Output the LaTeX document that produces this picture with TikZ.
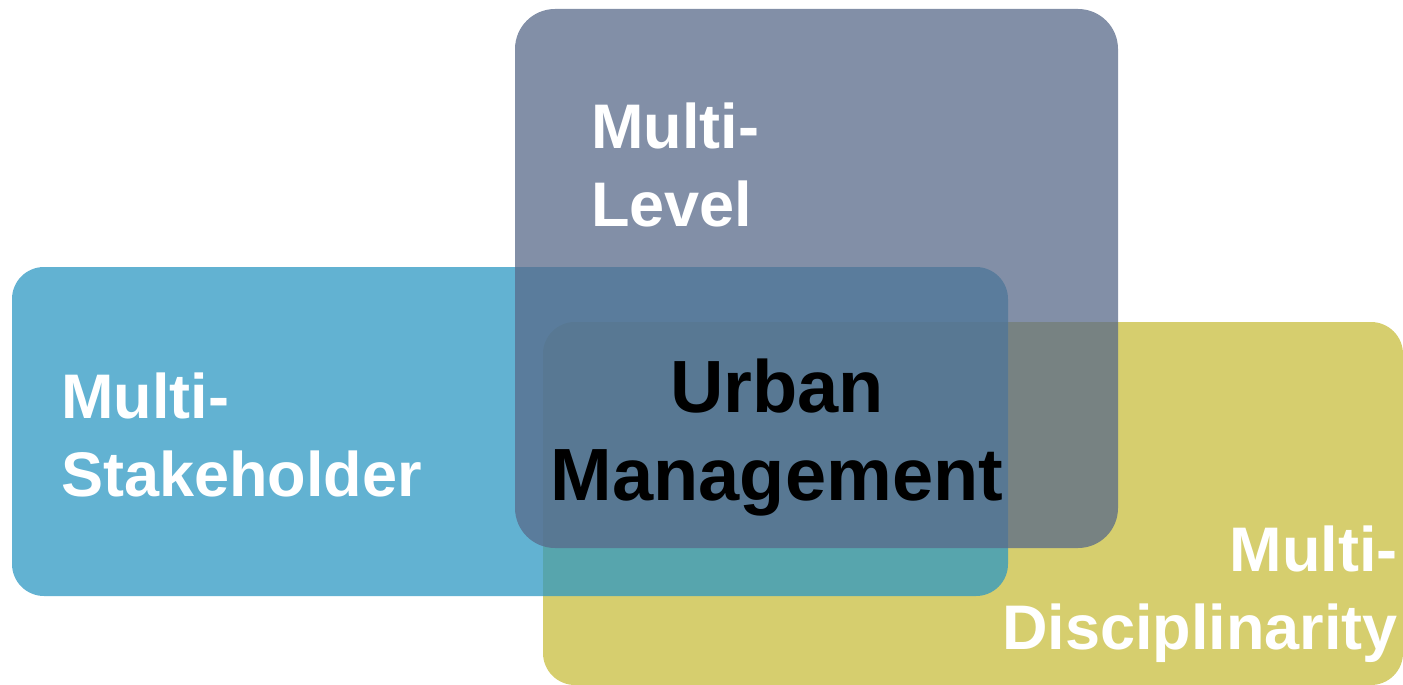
\documentclass[tikz,border=0pt]{standalone}
\usepackage{fontspec}
\setmainfont{Liberation Sans}
\begin{document}
\begin{tikzpicture}[x=1pt,y=-1pt,
  panel/.style={fill opacity=0.75,draw=none},
  whitelabel/.style={text=white,font=\fontsize{63}{78}\selectfont\bfseries,inner sep=0pt},
  centrelabel/.style={text=black,font=\fontsize{74}{88}\selectfont\bfseries,inner sep=0pt,align=center}]
\definecolor{panelgray}{RGB}{88,106,138}
\definecolor{panelblue}{RGB}{45,152,195}
\definecolor{panelyellow}{RGB}{200,190,62}
\useasboundingbox (0,0) rectangle (1403,685);
% three overlapping translucent panels
\fill[panel,fill=panelyellow,rounded corners=32pt] (543,322) rectangle (1403,685);
\fill[panel,fill=panelblue,rounded corners=32pt] (12,267) rectangle (1008,596);
\fill[panel,fill=panelgray,rounded corners=40pt] (515,9) rectangle (1118,548);
% labels
\node[whitelabel,align=left,anchor=north west] (level) at (591,103) {Multi-\\Level};
\node[whitelabel,align=left,anchor=north west] (stake) at (61,373) {Multi-\\Stakeholder};
\node[whitelabel,align=right,anchor=north east] (disc) at (1398,526) {Multi-\\Disciplinarity};
\node[centrelabel,anchor=north] (urban) at (777,359) {Urban\\Management};
\end{tikzpicture}
\end{document}
